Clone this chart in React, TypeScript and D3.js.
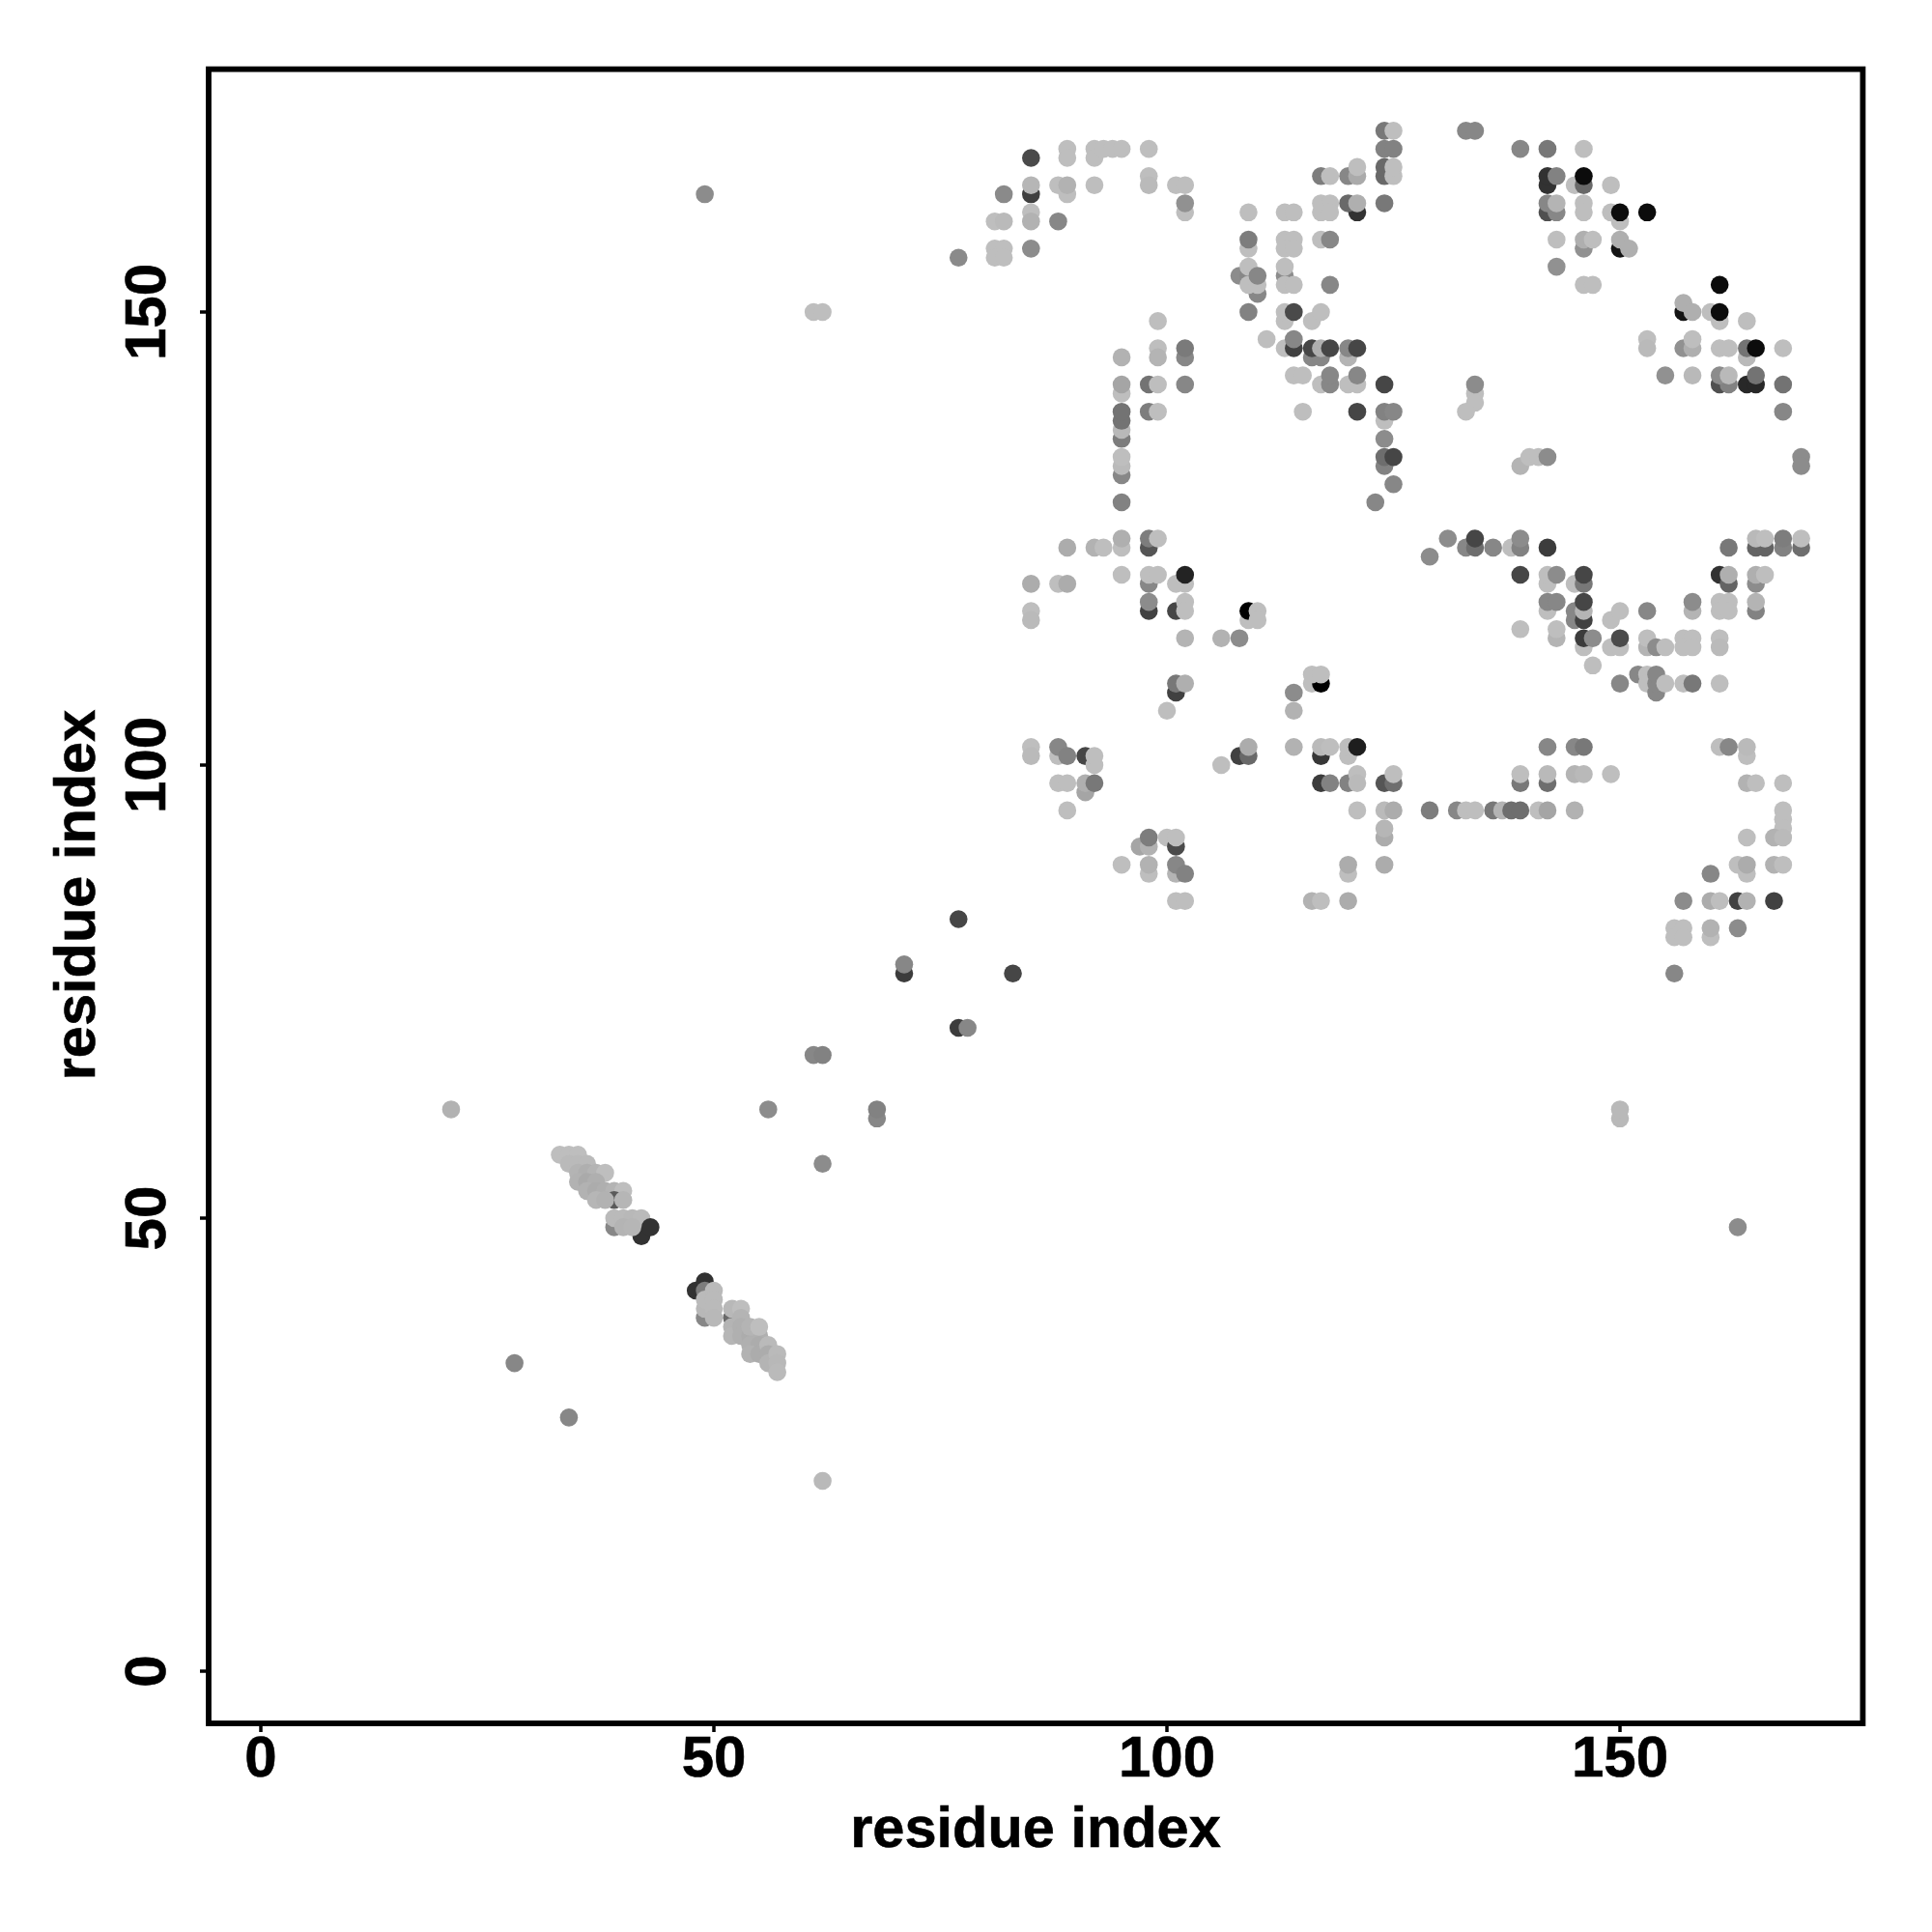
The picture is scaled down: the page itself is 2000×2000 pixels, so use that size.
import React from "react";
import * as d3 from "d3";

type C = [number, number, number];

// residue i, residue j, grey level of the contact; later entries are painted over earlier ones
const topLeftContacts: C[] = [
  [77,156,138],[85,167,74],[89,168,190],[89,167,190],[92,168,190],[92,167,190],[93,168,190],[94,168,190],[95,168,190],
  [98,168,190],[85,163,64],[85,164,182],[82,163,138],[89,163,190],[88,164,190],[89,164,178],[92,164,190],
  [98,165,190],[98,164,186],[101,164,190],[102,164,190],[102,161,190],[102,162,145],[85,161,190],[85,160,178],
  [81,160,190],[82,160,186],[88,160,135],[81,157,190],[82,157,190],[81,156,190],[82,156,190],[85,157,140],
];
const upperPillarContacts: C[] = [
  [99,149,190],[99,146,190],[99,145,180],[102,145,135],[102,146,122],[95,145,178],[95,141,190],[95,142,165],
  [98,142,115],[99,142,190],[102,142,135],[98,139,125],[99,139,190],[95,136,125],[95,137,185],[95,138,115],[95,139,115],
  [95,132,135],[95,133,186],[95,134,190],[95,129,130],
];
const upperMiddleContacts: C[] = [
  [109,161,190],[113,161,190],[114,161,190],[109,157,190],[109,158,125],[113,158,190],[114,158,190],[113,157,190],[114,157,190],
  [117,158,190],[118,158,135],[117,162,190],[118,162,190],[117,161,190],[118,161,190],[117,165,125],[118,165,190],
  [120,165,135],[121,165,170],[121,166,190],[121,161,50],[120,162,105],[121,162,175],[124,162,120],
  [124,170,120],[125,170,190],[124,168,130],[125,168,130],[124,165,105],[124,166,105],[125,165,190],[125,166,190],
  [110,152,135],[108,154,140],[109,154,135],[109,153,190],[110,153,190],[109,155,190],[110,154,135],
  [113,154,140],[113,153,190],[114,153,190],[113,155,190],[118,153,135],[109,150,130],[113,149,190],[113,150,190],[114,150,74],
  [116,149,190],[117,150,190],[111,147,190],[113,146,190],[114,146,65],[114,147,135],
  [116,145,135],[117,145,135],[116,146,70],[117,146,175],[118,146,70],[120,145,180],[120,146,135],[121,146,70],
  [114,143,190],[115,143,190],[117,142,190],[118,142,135],[118,143,135],[120,142,190],[121,142,190],[121,143,135],
  [124,142,70],[115,139,190],[121,139,70],[124,138,190],[124,139,130],[125,139,135],[124,136,140],
  [124,133,130],[124,134,110],[125,134,70],[125,131,135],[123,129,135],
];
const upperRightContacts: C[] = [
  [133,170,135],[134,170,135],[139,168,135],[142,168,120],[146,168,190],[142,164,50],[142,165,50],[143,165,130],
  [145,164,190],[146,164,105],[146,165,12],[149,164,190],[142,161,80],[143,161,135],[142,162,135],[143,162,180],
  [146,162,190],[146,161,190],[149,161,190],[150,160,190],[150,161,12],[153,161,12],[143,158,190],[146,157,145],
  [146,158,175],[147,158,190],[150,157,20],[150,158,175],[151,157,175],[143,155,145],[146,153,190],[147,153,190],
  [161,153,12],[157,150,20],[157,151,175],[158,150,175],[160,150,190],[161,149,190],[161,150,12],[164,149,190],
  [153,147,190],[153,146,186],[157,146,145],[158,146,175],[158,147,190],[161,146,190],[162,146,190],[164,145,185],[164,146,115],[165,146,12],
  [168,146,190],[155,143,145],[158,143,185],[161,142,80],[162,142,130],[161,143,140],[162,143,185],[164,142,40],[165,142,40],[165,143,115],
  [168,142,115],[168,139,135],[134,141,190],[134,140,190],[133,139,190],[134,142,140],[170,134,140],[170,133,140],
  [139,133,180],[140,134,190],[141,134,190],[142,134,140],
];
const middleLeftContacts: C[] = [
  [89,124,172],[92,124,178],[93,124,190],[95,124,190],[95,125,175],[98,124,85],[98,125,125],[99,125,190],
  [95,121,190],[98,120,135],[98,121,190],[99,121,190],[101,120,190],[102,120,190],[102,121,35],
  [85,120,172],[88,120,190],[89,120,172],[85,117,190],[85,116,186],[98,117,65],[98,118,140],
  [101,117,70],[102,118,190],[102,117,190],[102,114,180],[106,114,178],[108,114,140],
  [109,116,190],[109,117,0],[110,117,190],[110,116,190],[101,108,65],[101,109,120],[102,109,175],[100,106,190],
  [116,109,190],[117,109,0],[116,110,190],[117,110,190],[114,108,140],[114,106,178],
];
const rowOneHundredContacts: C[] = [
  [85,102,190],[85,101,186],[88,101,190],[88,102,135],[89,101,130],[91,101,70],[92,100,190],[92,101,190],
  [88,98,190],[89,98,190],[91,97,165],[91,98,175],[92,98,120],[89,95,190],[106,100,190],[108,101,65],[109,101,105],[109,102,172],
  [114,102,178],[117,101,55],[117,102,186],[118,102,190],[120,101,190],[120,102,190],[121,102,30],
  [117,98,60],[118,98,130],[120,98,130],[121,99,190],[121,98,186],[124,98,85],[125,98,110],[125,99,190],
  [121,95,190],[124,95,186],[125,95,172],[124,92,172],[124,93,182],[124,89,172],[120,88,190],[120,89,172],
  [116,85,178],[117,85,190],[120,85,172],
];
const lowerPillarContacts: C[] = [
  [97,91,165],[98,91,178],[98,92,125],[100,92,190],[101,91,75],[101,92,190],[95,89,190],[98,88,190],[98,89,178],
  [101,88,180],[101,89,135],[102,88,130],[101,85,190],[102,85,190],
];
const middleRightContacts: C[] = [
  [129,123,140],[131,125,140],[133,124,135],[134,124,110],[134,125,70],[136,124,135],[138,124,190],[139,124,130],[139,125,140],
  [142,124,60],[162,124,120],[165,124,100],[166,124,100],[165,125,185],[166,125,190],[168,124,130],[168,125,125],[170,124,110],[170,125,190],
  [139,121,70],[142,120,190],[142,121,190],[143,121,140],[145,120,190],[146,120,120],[146,121,70],
  [161,121,50],[162,120,100],[162,121,175],[165,120,140],[165,121,175],[166,121,190],
  [142,117,190],[142,118,135],[143,118,135],[145,116,135],[145,117,135],[146,116,65],[146,117,180],[146,118,70],
  [149,116,190],[150,117,190],[153,117,135],[158,117,180],[158,118,140],[161,118,190],[162,118,190],[161,117,190],[162,117,190],
  [165,117,130],[165,118,180],[139,115,190],[143,114,180],[143,115,190],[146,113,190],[146,114,60],[147,114,140],
  [149,113,190],[150,113,190],[150,114,75],[153,113,180],[153,114,190],[154,113,140],[155,113,190],
  [157,114,190],[158,114,190],[157,113,190],[158,113,190],[161,114,190],[161,113,186],[147,111,190],
  [152,110,135],[153,110,190],[153,109,190],[154,108,135],[154,109,135],[154,110,135],[155,109,190],
  [150,109,135],[157,109,190],[158,109,120],[161,109,190],
];
const lowerRightContacts: C[] = [
  [142,102,135],[145,102,135],[146,102,120],[161,102,190],[162,102,135],[164,101,190],[164,102,186],
  [139,98,120],[139,99,190],[142,98,110],[142,99,185],[145,99,180],[146,99,185],[149,99,190],
  [129,95,125],[132,95,135],[133,95,190],[134,95,190],[136,95,120],[137,95,180],[138,95,110],[139,95,110],
  [141,95,190],[142,95,165],[145,95,178],[164,98,178],[165,98,190],[168,98,190],
  [168,95,190],[168,94,190],[168,93,190],[167,92,178],[168,92,186],[164,92,190],[163,89,190],[164,88,190],[164,89,172],
  [167,89,178],[168,89,190],[160,88,135],[157,85,140],[160,85,172],[161,85,190],[163,85,65],[164,85,178],[167,85,65],
  [156,82,190],[157,82,190],[156,81,190],[157,81,190],[160,81,190],[160,82,178],[163,82,140],[156,77,135],
];
const isolatedContacts: C[] = [
  [49,163,140],[61,150,190],[62,150,190],[77,83,70],[71,77,60],[71,78,135],[83,77,70],[77,71,60],[78,71,135],
  [61,68,135],[62,68,130],[68,61,135],[68,62,130],[56,62,140],[62,56,140],[21,62,178],[150,61,185],[150,62,185],
  [163,49,140],[28,34,135],[34,28,135],[62,21,185],
];
const firstDiagonalContacts: C[] = [
  [33,57,190],[34,57,190],[35,57,190],[34,56,186],[35,56,186],[36,56,186],[35,55,180],[36,55,175],[37,55,180],[38,55,190],
  [35,54,178],[36,54,170],[37,54,175],[36,53,178],[37,53,172],[38,53,175],[39,53,180],[40,53,190],
  [39,52,90],[37,52,182],[38,52,178],[40,52,182],[39,49,135],[42,49,125],[42,48,50],[39,50,186],[40,50,186],[41,50,184],[42,50,186],
  [40,49,180],[41,49,182],[43,49,50],
];
const secondDiagonalContacts: C[] = [
  [48,42,50],[49,43,50],[49,42,125],[49,39,135],[49,40,184],[49,41,186],[50,42,186],[50,41,186],[50,40,186],[50,39,184],
  [52,39,105],[52,40,184],[53,40,190],[52,38,180],[52,37,182],[53,39,180],[53,38,176],[53,37,176],[54,37,172],[55,37,176],
  [54,38,180],[55,38,190],[54,36,176],[55,36,172],[54,35,178],[55,35,172],[56,36,186],[56,35,172],[56,34,180],
  [57,35,186],[57,34,184],[57,33,186],
];
const contacts: C[] = [
  ...topLeftContacts, ...upperPillarContacts, ...upperMiddleContacts, ...upperRightContacts,
  ...middleLeftContacts, ...rowOneHundredContacts, ...lowerPillarContacts, ...middleRightContacts,
  ...lowerRightContacts, ...isolatedContacts, ...firstDiagonalContacts, ...secondDiagonalContacts,
];
const tickValues = [0, 50, 100, 150];
const axisTitle = "residue index";

const x = d3.scaleLinear().domain([0, 150]).range([270, 1677]);
const y = d3.scaleLinear().domain([0, 150]).range([1730, 323]);
const domainMin = -5.76;
const domainMax = 176.8;
const font = "'Liberation Sans', Arial, sans-serif";
const textStyle = { fontFamily: font, fontWeight: "bold", stroke: "#000", strokeWidth: 0.6 } as const;

export default function App() {
  const left = x(domainMin), right = x(domainMax), top = y(domainMax), bottom = y(domainMin);
  return (
    <svg width={2000} height={2000} viewBox="0 0 2000 2000"
      style={{ position: "absolute", left: 0, top: 0, background: "#fff" }}>
      {contacts.map(([i, j, g], k) => (
        <circle key={k} cx={x(i)} cy={y(j)} r={9.3} fill={d3.rgb(g, g, g).formatHex()} />
      ))}
      <rect x={left} y={top} width={right - left} height={bottom - top} fill="none" stroke="#000" strokeWidth={5.8} />
      {tickValues.map((t) => (
        <g key={"x" + t}>
          <line x1={x(t)} x2={x(t)} y1={bottom} y2={bottom + 9} stroke="#000" strokeWidth={3.5} />
          <text x={x(t)} y={1839} textAnchor="middle" fontSize={60} style={textStyle}>{t}</text>
        </g>
      ))}
      {tickValues.map((t) => (
        <g key={"y" + t}>
          <line x1={left} x2={left - 9} y1={y(t)} y2={y(t)} stroke="#000" strokeWidth={3.5} />
          <text transform={`translate(171,${y(t)}) rotate(-90)`} textAnchor="middle" fontSize={60} style={textStyle}>{t}</text>
        </g>
      ))}
      <text x={1072} y={1912} textAnchor="middle" fontSize={59.5} style={textStyle}>{axisTitle}</text>
      <text transform={`translate(98,926.5) rotate(-90)`} textAnchor="middle" fontSize={59.5} style={textStyle}>{axisTitle}</text>
    </svg>
  );
}
